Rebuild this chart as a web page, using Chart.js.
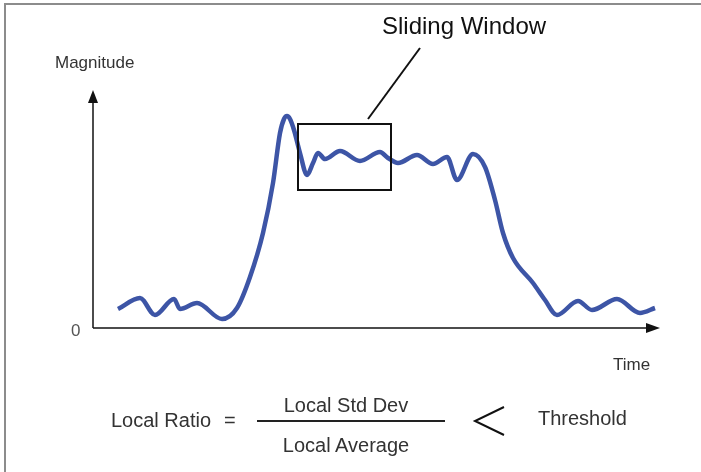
<!DOCTYPE html>
<html>
<head>
<meta charset="utf-8">
<script src="https://cdn.jsdelivr.net/npm/chart.js@4"></script>
<style>
  body { margin: 0; background: #fff; }
  #wrap { position: relative; width: 701px; height: 472px; overflow: hidden; font-family: "Liberation Sans", Arial, sans-serif; }
  #frame { position: absolute; left: 4px; top: 3px; width: 700px; height: 472px; border-top: 2px solid #8c8c8c; border-left: 2px solid #8c8c8c; }
  .lbl { position: absolute; line-height: 1; white-space: nowrap; color: #333; }
  #fracLine { position: absolute; left: 257px; top: 420px; width: 188px; border-top: 2px solid #222; }
</style>
</head>
<body>
<div id="wrap">
  <div id="frame"></div>
  <canvas id="myChart" width="701" height="472"></canvas>
  <div class="lbl" style="left:55px; top:54px; font-size:17px;">Magnitude</div>
  <div class="lbl" style="left:71px; top:322px; font-size:17px; color:#555;">0</div>
  <div class="lbl" style="left:613px; top:356px; font-size:17px;">Time</div>
  <div class="lbl" style="left:382px; top:14px; font-size:24px; color:#111;">Sliding Window</div>
  <div class="lbl" style="left:111px; top:410px; font-size:20px;">Local Ratio</div>
  <div class="lbl" style="left:224px; top:410px; font-size:20px;">=</div>
  <div class="lbl" style="left:266px; top:395px; width:160px; text-align:center; font-size:20px;">Local Std Dev</div>
  <div id="fracLine"></div>
  <div class="lbl" style="left:266px; top:435px; width:160px; text-align:center; font-size:20px;">Local Average</div>
  <div class="lbl" style="left:538px; top:408px; font-size:20px;">Threshold</div>
</div>
<script>
// signal trace (time, magnitude)
var time = [25, 47, 62, 81, 87, 104, 129, 144, 157, 170, 180, 187, 191, 194, 197, 201, 207, 214, 220, 225, 232, 247, 267,
            287, 295, 305, 324, 340, 354, 364, 380, 392, 402, 410, 420, 440, 452, 464, 485, 499, 524, 547, 562];
var magnitude = [19, 30, 13, 29, 19, 25, 9, 20, 51, 95, 145, 195, 209, 212, 209, 198, 175, 153, 165, 175, 169, 177, 167,
                 176, 170, 165, 173, 164, 171, 148, 174, 161, 128, 95, 70, 45, 28, 13, 27, 18, 29, 15, 20];

// sliding window extent in data units
var windowTime = [205, 298];
var windowMag = [138, 204];
// leader line from label to window
var leaderTime = [327, 275];
var leaderMag = [280, 209];

var points = time.map(function (t, i) { return { x: t, y: magnitude[i] }; });

var diagram = {
    id: 'diagram',
    beforeDatasetsDraw: function (chart) {
        var c = chart.ctx, a = chart.chartArea;
        c.save();
        c.strokeStyle = '#111';
        c.fillStyle = '#111';
        c.lineWidth = 1.5;
        // y axis
        c.beginPath();
        c.moveTo(a.left, a.bottom);
        c.lineTo(a.left, a.top + 10);
        c.stroke();
        c.beginPath();
        c.moveTo(a.left, a.top);
        c.lineTo(a.left - 5, a.top + 13);
        c.lineTo(a.left + 5, a.top + 13);
        c.closePath();
        c.fill();
        // x axis
        c.beginPath();
        c.moveTo(a.left, a.bottom);
        c.lineTo(a.right - 10, a.bottom);
        c.stroke();
        c.beginPath();
        c.moveTo(a.right, a.bottom);
        c.lineTo(a.right - 14, a.bottom - 5);
        c.lineTo(a.right - 14, a.bottom + 5);
        c.closePath();
        c.fill();
        c.restore();
    },
    afterDatasetsDraw: function (chart) {
        var c = chart.ctx, x = chart.scales.x, y = chart.scales.y;
        c.save();
        c.strokeStyle = '#111';
        c.lineWidth = 2;
        var x0 = x.getPixelForValue(windowTime[0]), x1 = x.getPixelForValue(windowTime[1]);
        var y0 = y.getPixelForValue(windowMag[1]), y1 = y.getPixelForValue(windowMag[0]);
        c.strokeRect(x0, y0, x1 - x0, y1 - y0);
        c.beginPath();
        c.moveTo(x.getPixelForValue(leaderTime[0]), y.getPixelForValue(leaderMag[0]));
        c.lineTo(x.getPixelForValue(leaderTime[1]), y.getPixelForValue(leaderMag[1]));
        c.stroke();
        // "<" sign of the formula
        c.lineWidth = 2;
        c.beginPath();
        c.moveTo(504, 407);
        c.lineTo(475, 421);
        c.lineTo(504, 435);
        c.stroke();
        c.restore();
    }
};

var ctx = document.getElementById('myChart').getContext('2d');
var chart = new Chart(ctx, {
    type: 'line',
    data: {
        datasets: [{
            data: points,
            borderColor: '#3d55a6',
            borderWidth: 4.5,
            pointRadius: 0,
            fill: false,
            cubicInterpolationMode: 'monotone'
        }]
    },
    options: {
        responsive: false,
        animation: false,
        layout: { padding: { left: 93, top: 90, right: 41, bottom: 144 } },
        plugins: { legend: { display: false }, tooltip: { enabled: false } },
        scales: {
            x: { type: 'linear', min: 0, max: 567, display: false },
            y: { min: 0, max: 238, display: false }
        }
    },
    plugins: [diagram]
});
</script>
</body>
</html>
